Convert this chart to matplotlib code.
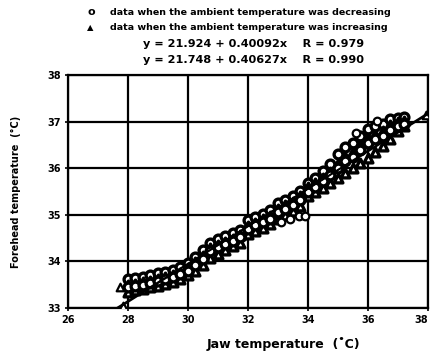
import matplotlib
matplotlib.use("Agg")
import matplotlib.pyplot as plt
import numpy as np

plt.rcParams['font.family'] = ['DejaVu Sans']

x_ticks = [26, 28, 30, 32, 34, 36, 38]
y_ticks = [33, 34, 35, 36, 37, 38]

# jaw temperature positions of the readings
jaw = [28.0, 28.25, 28.5, 28.75, 29.0, 29.25, 29.5, 29.75, 30.0, 30.25, 30.5, 30.75, 31.0,
       31.25, 31.5, 31.75, 32.0, 32.25, 32.5, 32.75, 33.0, 33.25, 33.5, 33.75, 34.0, 34.25,
       34.5, 34.75, 35.0, 35.25, 35.5, 35.75, 36.0, 36.25, 36.5, 36.75, 37.0, 37.2]

# data when ambient temperature was decreasing (circles)
dec_upper = [33.62, 33.64, 33.66, 33.70, 33.74, 33.78, 33.82, 33.88, 33.96, 34.10, 34.25, 34.40, 34.48,
             34.55, 34.60, 34.68, 34.88, 34.95, 35.02, 35.10, 35.25, 35.32, 35.40, 35.52, 35.68, 35.80,
             35.95, 36.10, 36.30, 36.45, 36.55, 36.70, 36.85, 36.90, 36.95, 37.05, 37.08, 37.10]
dec_mid = [33.45, 33.48, 33.50, 33.54, 33.58, 33.62, 33.66, 33.72, 33.80, 33.92, 34.05, 34.22, 34.30,
           34.38, 34.44, 34.52, 34.70, 34.78, 34.85, 34.92, 35.05, 35.12, 35.20, 35.32, 35.50, 35.60,
           35.72, 35.85, 36.00, 36.15, 36.25, 36.40, 36.55, 36.62, 36.70, 36.82, 36.90, 36.95]
dec_extra_x = [33.1, 33.4, 33.7, 33.9, 35.6, 36.3]
dec_extra_y = [34.85, 34.90, 34.98, 34.98, 36.75, 37.02]

# data when ambient temperature was increasing (triangles)
inc_lower = [33.35, 33.38, 33.40, 33.44, 33.48, 33.52, 33.56, 33.62, 33.70, 33.80, 33.92, 34.08, 34.15,
             34.25, 34.32, 34.40, 34.58, 34.65, 34.72, 34.80, 34.92, 35.00, 35.08, 35.18, 35.40, 35.48,
             35.58, 35.68, 35.78, 35.90, 36.00, 36.12, 36.22, 36.35, 36.48, 36.62, 36.80, 36.90]
inc_mid = [33.50, 33.52, 33.55, 33.58, 33.62, 33.66, 33.70, 33.76, 33.85, 33.98, 34.12, 34.28, 34.35,
           34.42, 34.48, 34.56, 34.75, 34.82, 34.90, 34.98, 35.12, 35.20, 35.28, 35.40, 35.60, 35.68,
           35.80, 35.92, 36.10, 36.25, 36.35, 36.50, 36.65, 36.72, 36.80, 36.92, 37.00, 37.02]
inc_extra_x = [27.75, 27.85, 37.95]
inc_extra_y = [33.45, 33.05, 37.15]

fit_x = [27.6, 38.0]
fit1 = (21.924, 0.40092)
fit2 = (21.748, 0.40627)

fig = plt.figure(figsize=(4.33, 3.58), dpi=100)
ax = fig.add_axes([0.157, 0.140, 0.831, 0.650])

for xt in x_ticks:
    ax.axvline(xt, color='black', lw=1.6, zorder=1)
for yt in y_ticks:
    ax.axhline(yt, color='black', lw=1.6, zorder=1)

mk = dict(s=40, facecolors='white', edgecolors='black', linewidths=2.4, zorder=3)
ax.scatter(jaw, dec_upper, marker='o', **mk)
ax.scatter(jaw, inc_lower, marker='^', **mk)
ax.scatter(jaw, inc_mid, marker='^', **mk)
ax.scatter(jaw, dec_mid, marker='o', **mk)
ax.scatter(dec_extra_x, dec_extra_y, marker='o', s=30, facecolors='white', edgecolors='black', linewidths=1.6, zorder=3)
ax.scatter(inc_extra_x, inc_extra_y, marker='^', s=30, facecolors='white', edgecolors='black', linewidths=1.6, zorder=3)

fx = np.array(fit_x)
ax.plot(fx, fit1[0] + fit1[1] * fx, color='black', lw=1.2, zorder=4)
ax.plot(fx, fit2[0] + fit2[1] * fx, color='black', lw=1.2, zorder=4)

ax.set_xlim(26, 38)
ax.set_ylim(33, 38)
ax.set_xticks(x_ticks)
ax.set_yticks(y_ticks)
ax.set_xticklabels([str(t) for t in x_ticks], fontsize=7, fontweight='bold')
ax.set_yticklabels([str(t) for t in y_ticks], fontsize=7, fontweight='bold')
ax.get_xticklabels()[-1].set_ha('right')
ax.tick_params(direction='inout', length=4, width=1.2, pad=3)
for s in ax.spines.values():
    s.set_linewidth(1.6)

ax.set_xlabel('Jaw temperature  (\u02daC)', fontsize=9, fontweight='bold')
ax.xaxis.set_label_coords(0.60, -0.125)
ax.set_ylabel('Forehead temperature  (\u00b0C)', fontsize=7, fontweight='bold')
ax.yaxis.set_label_coords(-0.13, 0.5)

# legend-like header
fig.text(0.203, 0.966, 'o', fontsize=8, fontweight='bold', va='center')
fig.text(0.254, 0.966, 'data when the ambient temperature was decreasing', fontsize=6.8, fontweight='bold', va='center')
fig.text(0.200, 0.924, '\u25b2', fontsize=6, fontweight='bold', va='center')
fig.text(0.254, 0.924, 'data when the ambient temperature was increasing', fontsize=6.8, fontweight='bold', va='center')
fig.text(0.33, 0.877, 'y = 21.924 + 0.40092x    R = 0.979', fontsize=8.1, fontweight='bold', va='center')
fig.text(0.33, 0.832, 'y = 21.748 + 0.40627x    R = 0.990', fontsize=8.1, fontweight='bold', va='center')

fig.savefig('out.png', dpi=100)
